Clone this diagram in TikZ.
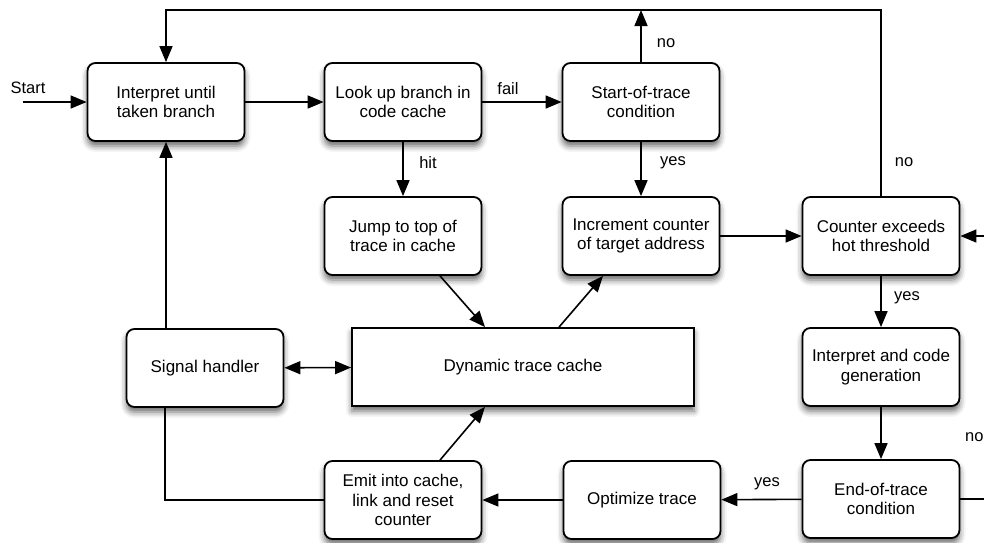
\documentclass[tikz,border=0pt]{standalone}
\usepackage{fontspec}
\setmainfont{Liberation Sans}
\usetikzlibrary{arrows.meta,shadows.blur}

\tikzset{
  box/.style={draw, line width=1.8pt, rounded corners=8pt, fill=white,
    minimum width=157pt, minimum height=78pt, align=center, inner sep=2pt,
    font=\fontsize{17}{19.8}\selectfont,
    blur shadow={shadow xshift=0pt, shadow yshift=-5pt, shadow blur radius=6pt, shadow opacity=60}},
  sqbox/.style={box, rounded corners=0pt},
  conn/.style={line width=1.6pt, -{Triangle[length=16pt,width=13pt]}},
  plain/.style={line width=1.6pt},
  lbl/.style={font=\fontsize{16.5}{19}\selectfont, inner sep=0pt}
}

\begin{document}
\begin{tikzpicture}[x=1pt,y=-1pt]
  \useasboundingbox (0,0) rectangle (984,542);
  \clip (0,0) rectangle (984,542);

  % boxes
  \node[box] (interp) at (166,102) {Interpret until\\taken branch};
  \node[box] (lookup) at (403,102) {Look up branch in\\code cache};
  \node[box] (sot)    at (641,102) {Start-of-trace\\condition};
  \node[box] (jump)   at (403,236) {Jump to top of\\trace in cache};
  \node[box] (incr)   at (641,236) {Increment counter\\of target address};
  \node[box] (hot)    at (881,236) {Counter exceeds\\hot threshold};
  \node[box] (gen)    at (881,367) {Interpret and code\\generation};
  \node[box] (eot)    at (881,499) {End-of-trace\\condition};
  \node[box] (sig)    at (205,368) {Signal handler};
  \node[sqbox, minimum width=342pt] (dtc) at (523,367) {Dynamic trace cache};
  \node[box] (emit)   at (403,500) {Emit into cache,\\link and reset\\counter};
  \node[box] (opt)    at (642,500) {Optimize trace};

  % helper points
  \coordinate (startpt) at (23,102);
  \coordinate (topL) at (166,10);
  \coordinate (sotTop) at (641,10);
  \coordinate (farR) at (1000,0);
  \coordinate (sigX) at (165,0);

  % connectors
  \draw[conn] (startpt) -- (interp.west);
  \draw[conn] (interp) -- (lookup);
  \draw[conn] (lookup) -- (sot);
  \draw[conn] (lookup) -- (jump);
  \draw[conn] (sot) -- (incr);
  \draw[conn] (sot.north) -- (sotTop);
  \draw[conn] (incr) -- (hot);
  \draw[conn] (hot.north) |- (topL) -- (interp.north);
  \draw[conn] (hot) -- (gen);
  \draw[conn] (gen) -- (eot);
  \draw[conn] (eot.east) -- (eot.east -| farR) -- (hot.east -| farR) -- (hot.east);
  \draw[conn] (eot) -- (opt);
  \draw[conn] (opt) -- (emit);
  \draw[conn] (emit.north) ++(37,0) -- ([xshift=-38pt]dtc.south);
  \draw[conn] ([xshift=37pt]jump.south) -- ([xshift=-38pt]dtc.north);
  \draw[conn] ([xshift=36pt]dtc.north) -- ([xshift=-38pt]incr.south);
  \draw[line width=1.6pt, {Triangle[length=16pt,width=13pt]}-{Triangle[length=16pt,width=13pt]}] (sig) -- (dtc);
  \draw[conn] (sig.north -| interp) -- (interp.south);
  \draw[plain] (emit.west) -| (sig.south -| sigX);

  % labels
  \node[lbl] (lstart) at (28,88) {Start};
  \node[lbl] (lfail) at (508,89) {fail};
  \node[lbl] (lhit) at (428,163) {hit};
  \node[lbl] (lyes1) at (673,163) {yes};
  \node[lbl] (lno1) at (666,43) {no};
  \node[lbl] (lno2) at (904,162) {no};
  \node[lbl] (lyes2) at (907,298) {yes};
  \node[lbl] (lyes3) at (767,484) {yes};
  \node[lbl, anchor=west] (lno3) at (965,437) {no};
\end{tikzpicture}
\end{document}
